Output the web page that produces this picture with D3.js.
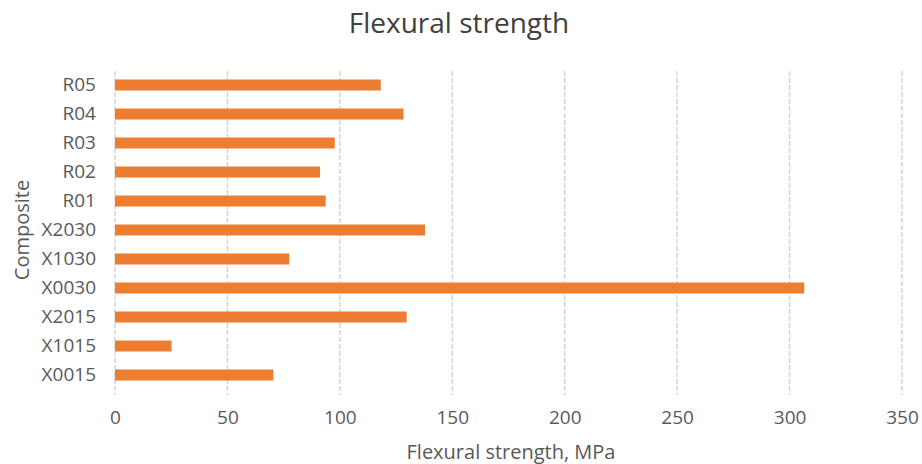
<!DOCTYPE html>
<html><head><meta charset="utf-8">
<script src="https://cdn.jsdelivr.net/npm/d3@7"></script>
<style>body{margin:0;background:#fff}svg{display:block}</style>
</head><body>
<script>
const categories = ["R05","R04","R03","R02","R01","X2030","X1030","X0030","X2015","X1015","X0015"];
const values = [118.2,128.3,97.7,91.2,93.7,137.9,77.5,306.5,129.7,25.2,70.4];
const xTicks = [0,50,100,150,200,250,300,350];

const W=922,H=464;
const svg=d3.select("body").append("svg").attr("width",W).attr("height",H);
const font="'Open Sans', sans-serif";
const x=d3.scaleLinear().domain([0,350]).range([115,902]);
const y=d3.scaleBand().domain(categories).range([70.5,389.5]).paddingInner(0.62).paddingOuter(0.31);

svg.append("g").selectAll("line").data(xTicks).join("line")
 .attr("x1",d=>x(d)).attr("x2",d=>x(d)).attr("y1",71).attr("y2",395)
 .attr("stroke","#d0d0d0").attr("stroke-width",1.3).attr("stroke-dasharray","5,2");

svg.append("g").selectAll("rect").data(values).join("rect")
 .attr("x",x(0)).attr("y",(d,i)=>y(categories[i]))
 .attr("width",d=>x(d)-x(0)).attr("height",y.bandwidth())
 .attr("fill","#ED7D31");

const xAxis=svg.append("g").attr("transform","translate(0,395)")
 .call(d3.axisBottom(x).tickValues(xTicks).tickSize(0).tickPadding(16));
xAxis.select(".domain").remove();
xAxis.selectAll("text").attr("font-family",font).attr("font-size",19).attr("fill","#595959");

const yAxis=svg.append("g").attr("transform","translate(96,0)")
 .call(d3.axisLeft(y).tickSize(0).tickPadding(0));
yAxis.select(".domain").remove();
yAxis.selectAll("text").attr("font-family",font).attr("font-size",19).attr("fill","#595959");

svg.append("text").attr("x",459).attr("y",33).attr("text-anchor","middle")
 .attr("font-family",font).attr("font-size",28).attr("fill","#404040").text("Flexural strength");
svg.append("text").attr("x",511).attr("y",459).attr("text-anchor","middle")
 .attr("font-family",font).attr("font-size",20).attr("fill","#595959").text("Flexural strength, MPa");
svg.append("text").attr("transform","translate(29,230) rotate(-90)").attr("text-anchor","middle")
 .attr("font-family",font).attr("font-size",20).attr("fill","#595959").text("Composite");
</script>
</body></html>
